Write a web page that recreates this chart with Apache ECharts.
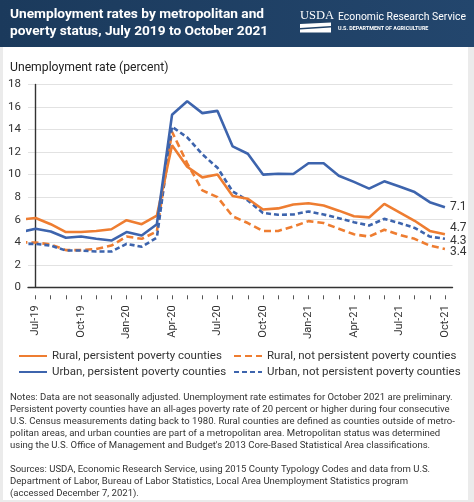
<!DOCTYPE html>
<html><head><meta charset="utf-8">
<script src="https://cdn.jsdelivr.net/npm/echarts@6/dist/echarts.min.js"></script>
<style>html,body{margin:0;padding:0;background:#ebebeb}#c{width:474px;height:502px}</style>
</head><body><div id="c"></div>
<script>
// Months (first entry Jun-19 lies just left of the plotted range and is clipped at the axis)
const months = ['Jun-19','Jul-19','Aug-19','Sep-19','Oct-19','Nov-19','Dec-19','Jan-20','Feb-20','Mar-20','Apr-20','May-20','Jun-20','Jul-20','Aug-20','Sep-20','Oct-20','Nov-20','Dec-20','Jan-21','Feb-21','Mar-21','Apr-21','May-21','Jun-21','Jul-21','Aug-21','Sep-21','Oct-21'];
const ruralPersistent    = [6.0, 6.15, 5.6, 4.9, 4.9, 5.0, 5.15, 5.95, 5.6, 6.35, 12.6, 10.7, 9.75, 10.0, 8.1, 7.85, 6.9, 7.0, 7.35, 7.45, 7.25, 6.8, 6.3, 6.2, 7.4, 6.65, 5.9, 5.0, 4.7];
const ruralNotPersistent = [4.0, 3.97, 3.8, 3.3, 3.3, 3.4, 3.7, 4.5, 4.3, 4.95, 13.8, 11.0, 8.6, 8.0, 6.3, 5.7, 5.0, 5.0, 5.4, 5.87, 5.7, 5.2, 4.7, 4.5, 5.1, 4.65, 4.3, 3.7, 3.4];
const urbanPersistent    = [4.9, 5.2, 4.95, 4.4, 4.5, 4.3, 4.15, 4.9, 4.6, 5.6, 15.3, 16.5, 15.45, 15.65, 12.5, 11.85, 10.0, 10.07, 10.05, 11.0, 11.0, 9.9, 9.35, 8.75, 9.4, 8.95, 8.45, 7.55, 7.1];
const urbanNotPersistent = [3.85, 3.85, 3.7, 3.26, 3.26, 3.17, 3.17, 3.85, 3.6, 4.4, 14.25, 13.3, 11.8, 10.6, 8.5, 7.7, 6.6, 6.43, 6.46, 6.73, 6.46, 6.13, 5.78, 5.48, 6.07, 5.7, 5.27, 4.5, 4.3];
const labelMonths = [0, 3, 6, 9, 12, 15, 18, 21, 24, 27];
const tickMonths = Array.from({length: 28}, (_, i) => i);
const seriesNames = ['Rural, persistent poverty counties', 'Rural, not persistent poverty counties', 'Urban, persistent poverty counties', 'Urban, not persistent poverty counties'];

const ORANGE = '#ee7d31', BLUE = '#3d64ad', FONT = 'Roboto';
const toXY = arr => arr.map((v, i) => [i - 1, v]);

const notes = [
 'Notes: Data are not seasonally adjusted. Unemployment rate estimates for October 2021 are preliminary.',
 'Persistent poverty counties have an all-ages poverty rate of 20 percent or higher during four consecutive',
 'U.S. Census measurements dating back to 1980. Rural counties are defined as counties outside of metro-',
 'politan areas, and urban counties are part of a metropolitan area. Metropolitan status was determined',
 'using the U.S. Office of Management and Budget\'s 2013 Core-Based Statistical Area classifications.',
 '',
 'Sources: USDA, Economic Research Service, using 2015 County Typology Codes and data from U.S.',
 'Department of Labor, Bureau of Labor Statistics, Local Area Unemployment Statistics program',
 '(accessed December 7, 2021).'
].join('\n');

function mkSeries(name, arr, color, dash, endOffset) {
  return {
    name, type: 'line', data: toXY(arr), xAxisIndex: 0, symbol: 'none', clip: true,
    lineStyle: {color, width: 2.6, type: dash || 'solid'}, itemStyle: {color},
    endLabel: {show: true, formatter: p => String(p.value[1]), color: '#333', fontFamily: FONT, fontSize: 12, distance: 5, offset: endOffset},
    animation: false
  };
}

const chart = echarts.init(document.getElementById('c'), null, {renderer: 'canvas'});
chart.setOption({
  animation: false,
  backgroundColor: '#ebebeb',
  graphic: [
    {type: 'rect', shape: {x: 3, y: 47, width: 465, height: 453}, style: {fill: '#ffffff'}, z: -10},
    {type: 'rect', shape: {x: 0, y: 0, width: 474, height: 47}, z: -5,
     style: {fill: new echarts.graphic.LinearGradient(0, 0, 1, 0, [{offset: 0, color: '#1b3a5c'}, {offset: 1, color: '#23466d'}])}},
    {type: 'text', x: 10, y: 15, style: {text: 'Unemployment rates by metropolitan and', fill: '#fff', font: 'bold 13.7px Roboto', textVerticalAlign: 'middle'}},
    {type: 'text', x: 10, y: 32, style: {text: 'poverty status, July 2019 to October 2021', fill: '#fff', font: 'bold 13.7px Roboto', textVerticalAlign: 'middle'}},
    {type: 'text', x: 300, y: 16, style: {text: 'USDA', fill: '#fff', font: '12.5px "Liberation Serif"', textVerticalAlign: 'middle'}},
    {type: 'polygon', shape: {points: [[300, 24], [331, 22.5], [331, 26], [300, 28]]}, style: {fill: '#fff'}},
    {type: 'polygon', shape: {points: [[300, 29.5], [331, 27.5], [331, 32.5], [300, 32.5]]}, style: {fill: '#fff'}},
    {type: 'text', x: 338, y: 17, style: {text: 'Economic Research Service', fill: '#fff', font: '10.4px Roboto', textVerticalAlign: 'middle'}},
    {type: 'text', x: 338, y: 29, style: {text: 'U.S. DEPARTMENT OF AGRICULTURE', fill: '#fff', font: 'bold 5.4px Roboto', textVerticalAlign: 'middle'}},
    {type: 'text', x: 10, y: 68, style: {text: 'Unemployment rate (percent)', fill: '#222', font: '12.2px Roboto', textVerticalAlign: 'middle'}},
    {type: 'text', x: 10, y: 392, style: {text: notes, fill: '#333', font: '9.55px Roboto', lineHeight: 11.9}}
  ],
  grid: {left: 28, right: 21.5, top: 84.4, bottom: 214.7, containLabel: false},
  xAxis: [
    {type: 'value', min: -0.5, max: 27.5, axisLine: {show: true, lineStyle: {color: '#333', width: 1.4}},
     axisTick: {show: false}, axisLabel: {show: false}, splitLine: {show: false}},
    {type: 'value', min: -0.5, max: 27.5, position: 'bottom', offset: 8,
     axisLine: {show: false}, splitLine: {show: false},
     axisTick: {show: true, customValues: tickMonths, length: 4, lineStyle: {color: '#555', width: 1}},
     axisLabel: {show: true, customValues: labelMonths, rotate: 90, margin: 10, color: '#333', fontFamily: FONT, fontSize: 11,
                 formatter: v => months[Math.round(v) + 1]}}
  ],
  yAxis: {type: 'value', min: 0, max: 18, interval: 2,
    axisLine: {show: true, lineStyle: {color: '#333', width: 1.4}}, axisTick: {show: false},
    axisLabel: {color: '#333', fontFamily: FONT, fontSize: 11.5, margin: 7},
    splitLine: {lineStyle: {color: '#e2e2e2', width: 1}}},
  legend: [
    {data: [seriesNames[0]], left: 18, top: 350},
    {data: [seriesNames[1]], left: 233, top: 350},
    {data: [seriesNames[2]], left: 18, top: 366},
    {data: [seriesNames[3]], left: 233, top: 366}
  ].map(l => Object.assign(l, {itemWidth: 28, itemHeight: 14, padding: 0, itemStyle: {opacity: 0},
     textStyle: {color: '#333', fontFamily: FONT, fontSize: 11.5}})),
  series: [
    mkSeries(seriesNames[1], ruralNotPersistent, ORANGE, [7, 4], [0, 3]),
    mkSeries(seriesNames[3], urbanNotPersistent, BLUE, [5, 3], [0, 2]),
    mkSeries(seriesNames[0], ruralPersistent, ORANGE, 'solid', [0, -6]),
    mkSeries(seriesNames[2], urbanPersistent, BLUE, 'solid', [0, 0])
  ]
});
</script></body></html>
